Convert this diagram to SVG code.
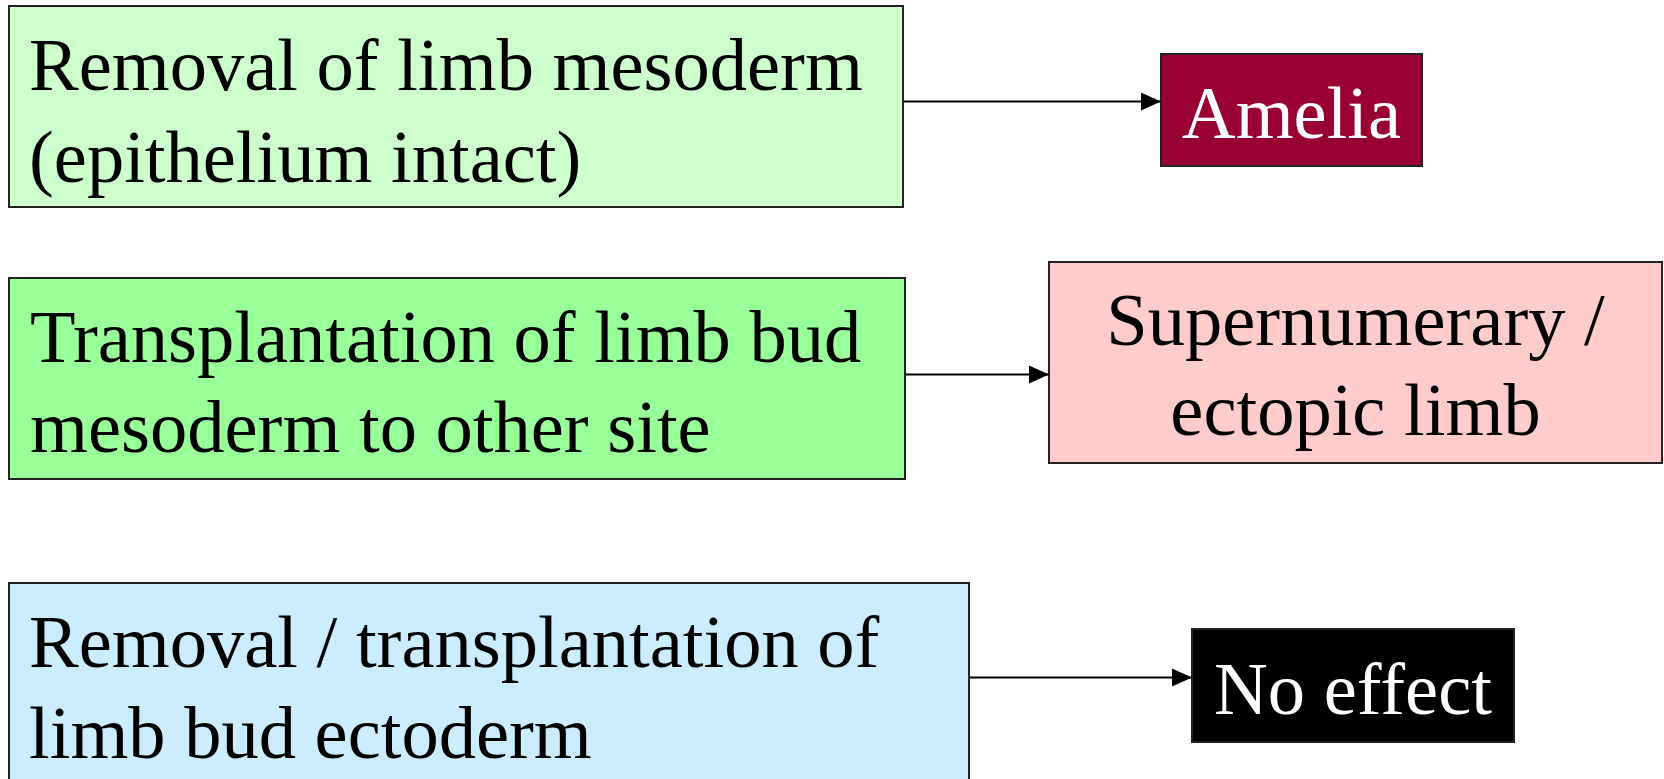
<svg xmlns="http://www.w3.org/2000/svg" width="1664" height="779" viewBox="0 0 1664 779">
<style>
  .box { stroke: #222; stroke-width: 2; }
  .t { font-family: "Liberation Serif", "Times New Roman", serif; font-size: 74.5px; fill: #000; }
  .w { fill: #fff; }
  .c { text-anchor: middle; }
  .conn { stroke: #000; stroke-width: 2; fill: none; }
</style>
<defs>
  <marker id="arr" markerWidth="20" markerHeight="18" refX="20" refY="9" orient="auto" markerUnits="userSpaceOnUse">
    <path d="M0,0 L20,9 L0,18 Z" fill="#000"/>
  </marker>
</defs>
<rect width="1664" height="779" fill="#fff"/>
<g id="n1">
  <rect class="box" x="9" y="6" width="894" height="201" fill="#CCFFCC"/>
  <text class="t" x="29" y="90">Removal of limb mesoderm</text>
  <text class="t" x="29" y="182">(epithelium intact)</text>
</g>
<g id="n2">
  <rect class="box" x="9" y="278" width="896" height="201" fill="#99FF99"/>
  <text class="t" x="30" y="362">Transplantation of limb bud</text>
  <text class="t" x="30" y="452">mesoderm to other site</text>
</g>
<g id="n3">
  <rect class="box" x="9" y="583" width="960" height="220" fill="#CCECFF"/>
  <text class="t" x="29" y="667">Removal / transplantation of</text>
  <text class="t" x="29" y="758">limb bud ectoderm</text>
</g>
<g id="n4">
  <rect class="box" x="1161" y="54" width="261" height="112" fill="#990033"/>
  <text class="t w c" x="1291.5" y="138">Amelia</text>
</g>
<g id="n5">
  <rect class="box" x="1049" y="262" width="613" height="201" fill="#FFCCCC"/>
  <text class="t c" x="1355.5" y="345">Supernumerary /</text>
  <text class="t c" x="1355.5" y="435">ectopic limb</text>
</g>
<g id="n6">
  <rect class="box" x="1192" y="629" width="322" height="113" fill="#000" stroke="#666"/>
  <text class="t w c" x="1353" y="714">No effect</text>
</g>
<g id="connectors">
  <line class="conn" x1="904" y1="101.5" x2="1161" y2="101.5" marker-end="url(#arr)"/>
  <line class="conn" x1="906" y1="374.5" x2="1049" y2="374.5" marker-end="url(#arr)"/>
  <line class="conn" x1="970" y1="677.5" x2="1192" y2="677.5" marker-end="url(#arr)"/>
</g>
</svg>
